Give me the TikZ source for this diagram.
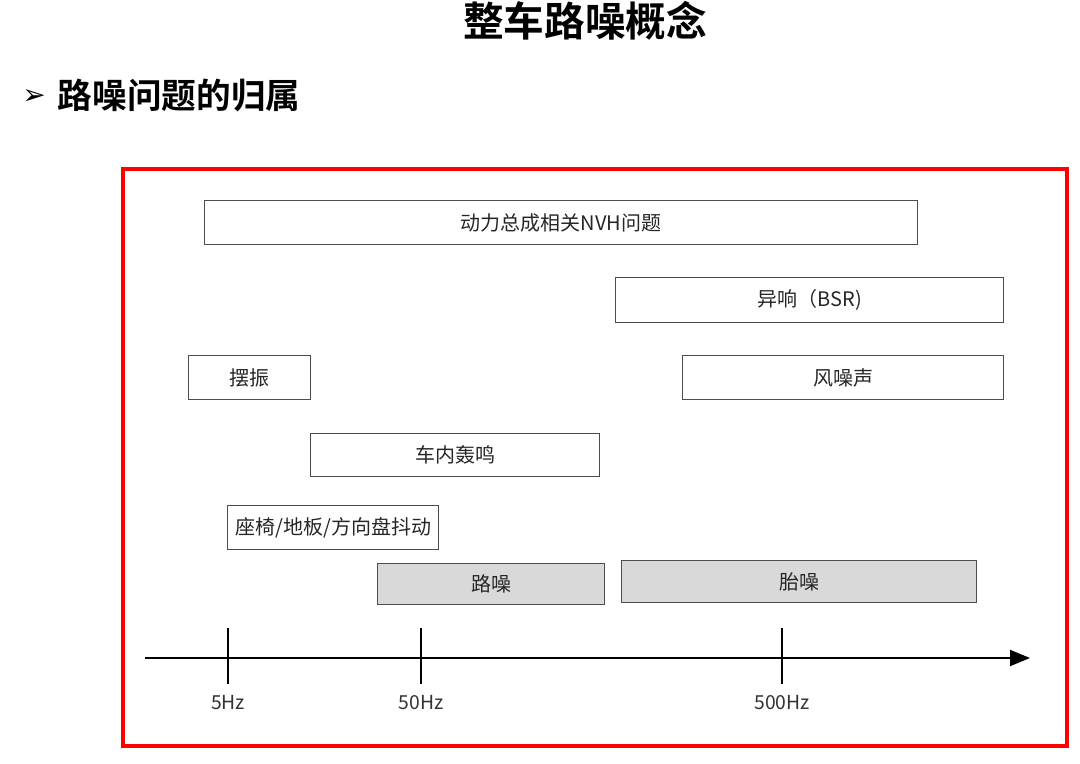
\documentclass[tikz,border=0pt]{standalone}
\usepackage{fontspec}
\setmainfont{Noto Sans CJK SC}
\newfontfamily\cjkb{Noto Sans CJK SC Bold}
\newfontfamily\symf{DejaVu Sans}
\usetikzlibrary{arrows.meta}
\begin{document}
\begin{tikzpicture}[x=0.75pt,y=-0.75pt,
  band/.style={draw=black!70,line width=1.1pt,inner sep=0pt,anchor=north west},
  lbl/.style={font=\fontsize{15}{17}\selectfont,text=black!85},
  tick/.style={line width=1.3pt},
  axlbl/.style={font=\fontsize{14.5}{16}\selectfont,text=black!80}]
\useasboundingbox (0,0) rectangle (1080,763);
% title
\node[font=\cjkb\fontsize{30.5}{34}\selectfont] (title) at (585,21) {整车路噪概念};
\node[font=\symf\fontsize{21}{24}\selectfont] (bul) at (34,97) {➢};
\node[font=\cjkb\fontsize{26}{30}\selectfont,anchor=west] (sub) at (53,96) {路噪问题的归属};
% frame
\coordinate (f0) at (123,169);
\coordinate (f1) at (1067,746);
\draw[red,line width=2.3pt] (f0) rectangle (f1);
% bands
\node[band,minimum width=713*0.75pt,minimum height=44*0.75pt] (pt) at (204,200) {};
\node[lbl] at (pt.center) {动力总成相关NVH问题};
\node[band,minimum width=388*0.75pt,minimum height=45*0.75pt] (bsr) at (615,277) {};
\node[lbl] at (bsr.center) {异响（BSR)};
\node[band,minimum width=122*0.75pt,minimum height=44*0.75pt] (bz) at (188,355) {};
\node[lbl] at (bz.center) {摆振};
\node[band,minimum width=321*0.75pt,minimum height=44*0.75pt] (wind) at (682,355) {};
\node[lbl] at (wind.center) {风噪声};
\node[band,minimum width=289*0.75pt,minimum height=43*0.75pt] (boom) at (310,433) {};
\node[lbl] at (boom.center) {车内轰鸣};
\node[band,minimum width=211*0.75pt,minimum height=44*0.75pt] (seat) at (227,505) {};
\node[lbl] at (seat.center) {座椅/地板/方向盘抖动};
\node[band,fill=black!15,minimum width=227*0.75pt,minimum height=41*0.75pt] (road) at (377,563) {};
\node[lbl] at (road.center) {路噪};
\node[band,fill=black!15,minimum width=355*0.75pt,minimum height=42*0.75pt] (tire) at (621,560) {};
\node[lbl] at (tire.center) {胎噪};
% axis
\coordinate (a0) at (145,658);
\coordinate (a1) at (1030,658);
\draw[line width=1.5pt,-{Triangle[length=15pt,width=12pt]}] (a0) -- (a1);
\coordinate (t1a) at (228,628); \coordinate (t1b) at (228,684);
\coordinate (t2a) at (421,628); \coordinate (t2b) at (421,684);
\coordinate (t3a) at (782,628); \coordinate (t3b) at (782,684);
\draw[tick] (t1a) -- (t1b);
\draw[tick] (t2a) -- (t2b);
\draw[tick] (t3a) -- (t3b);
\node[axlbl] (l1) at (228,703) {5Hz};
\node[axlbl] (l2) at (421,703) {50Hz};
\node[axlbl] (l3) at (782,703) {500Hz};
\end{tikzpicture}
\end{document}
